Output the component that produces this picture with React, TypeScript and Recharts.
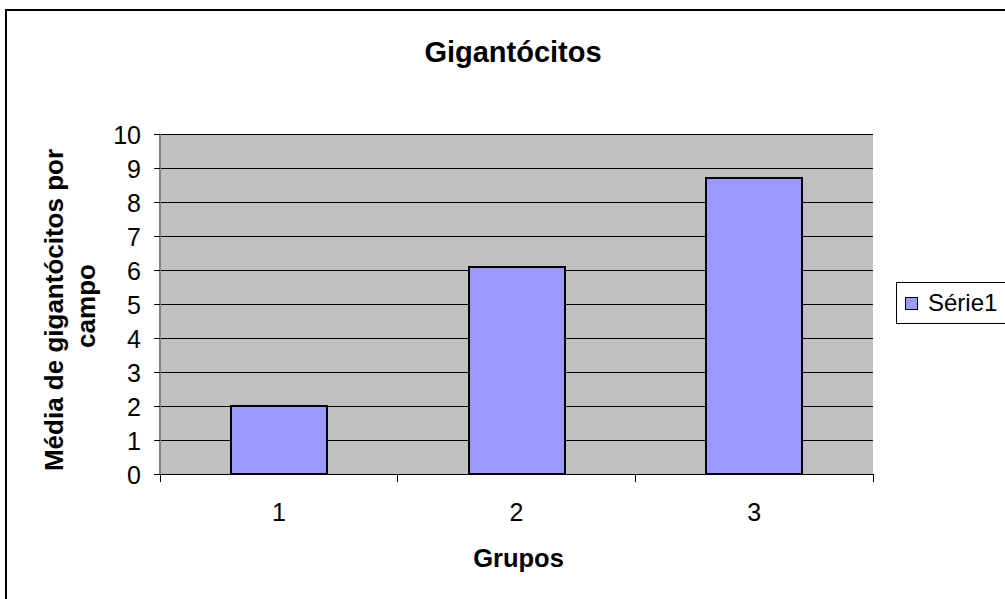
import React from 'react';
import { BarChart, Bar, XAxis, YAxis, CartesianGrid } from 'recharts';

const categories = ['1', '2', '3'];
const serie1 = [2.0, 6.1, 8.7];
const yTicks = [0, 1, 2, 3, 4, 5, 6, 7, 8, 9, 10];
const seriesName = 'Série1';
const chartTitle = 'Gigantócitos';
const xTitle = 'Grupos';
const yTitleLines = ['Média de gigantócitos por', 'campo'];

const data = categories.map((c, i) => ({ grupo: c, valor: serie1[i] }));

const FONT = '"Liberation Sans", Arial, Helvetica, sans-serif';
const BAR_FILL = '#9999FF';

const YTick = (props: any) => {
  const { x, y, payload } = props;
  return (
    <g>
      <line x1={x - 6} y1={y} x2={x} y2={y} stroke="#000" strokeWidth={1} />
      <text x={x - 19} y={y + 1} textAnchor="end" dominantBaseline="central" fontFamily={FONT} fontSize={25} fill="#000">
        {payload.value}
      </text>
    </g>
  );
};

const XTick = (props: any) => {
  const { x, y, payload, index, visibleTicksCount } = props;
  const half = payload && payload.offset ? payload.offset : 713 / categories.length / 2;
  const last = index === (visibleTicksCount ?? categories.length) - 1;
  return (
    <g>
      <line x1={x - half} y1={y} x2={x - half} y2={y + 8} stroke="#000" strokeWidth={1} />
      {last && <line x1={x + half} y1={y} x2={x + half} y2={y + 8} stroke="#000" strokeWidth={1} />}
      <text x={x} y={y + 38} textAnchor="middle" dominantBaseline="central" fontFamily={FONT} fontSize={25} fill="#000">
        {payload.value}
      </text>
    </g>
  );
};

const XTitle = (props: any) => {
  const vb = props.viewBox || { x: 160, y: 474, width: 713, height: 125 };
  return (
    <text x={vb.x + vb.width / 2 + 2} y={vb.y + 84} textAnchor="middle" dominantBaseline="central" fontFamily={FONT} fontWeight="bold" fontSize={25.5} fill="#000">
      {xTitle}
    </text>
  );
};

const YTitle = (props: any) => {
  const vb = props.viewBox || { x: 0, y: 134, width: 160, height: 340 };
  const cy = vb.y + vb.height / 2 + 6;
  return (
    <g>
      {yTitleLines.map((line, i) => (
        <text
          key={i}
          transform={`translate(${54 + i * 32},${cy - i * 4}) rotate(-90)`}
          textAnchor="middle"
          dominantBaseline="central"
          fontFamily={FONT}
          fontWeight="bold"
          fontSize={26}
          fill="#000"
        >
          {line}
        </text>
      ))}
    </g>
  );
};

export default function App() {
  return (
    <div style={{ position: 'fixed', left: 0, top: 0, width: 1005, height: 599, overflow: 'hidden', background: '#fff' }}>
      <div
        style={{
          position: 'absolute',
          left: 5,
          top: 9,
          width: 1100,
          height: 700,
          border: '2px solid #000',
        }}
      />
      <div
        style={{
          position: 'absolute',
          left: 13,
          width: 1000,
          top: 38,
          textAlign: 'center',
          fontFamily: FONT,
          fontWeight: 'bold',
          fontSize: 29,
          lineHeight: '29px',
          color: '#000',
        }}
      >
        {chartTitle}
      </div>
      <div style={{ position: 'absolute', left: 0, top: 0, shapeRendering: 'crispEdges' } as any}>
        <BarChart
          width={1005}
          height={599}
          data={data}
          margin={{ top: 134, right: 132, bottom: 0, left: 0 }}
        >
          <CartesianGrid vertical={false} stroke="#000" strokeWidth={1} fill="#C0C0C0" fillOpacity={1} />
          <XAxis
            dataKey="grupo"
            height={125}
            tickSize={0}
            tickMargin={0}
            tickLine={false}
            axisLine={{ stroke: '#000', strokeWidth: 1 }}
            tick={<XTick />}
            label={<XTitle />}
            interval={0}
          />
          <XAxis xAxisId="top" dataKey="grupo" orientation="top" height={0} tick={false} tickLine={false} axisLine={{ stroke: '#808080', strokeWidth: 2 }} />
          <YAxis
            width={160}
            domain={[0, 10]}
            ticks={yTicks}
            interval={0}
            tickSize={0}
            tickMargin={0}
            tickLine={false}
            axisLine={{ stroke: '#808080', strokeWidth: 2 }}
            tick={<YTick />}
            label={<YTitle />}
          />
          <YAxis yAxisId="right" orientation="right" width={0} domain={[0, 10]} tick={false} tickLine={false} axisLine={{ stroke: '#808080', strokeWidth: 2 }} />
          <Bar dataKey="valor" name={seriesName} fill={BAR_FILL} stroke="#000" strokeWidth={2} barSize={96} isAnimationActive={false} />
        </BarChart>
      </div>
      <div
        style={{
          position: 'absolute',
          left: 896,
          top: 282,
          width: 130,
          height: 42,
          boxSizing: 'border-box',
          border: '1px solid #000',
          background: '#fff',
          display: 'flex',
          alignItems: 'center',
          fontFamily: FONT,
          fontSize: 24,
          color: '#000',
        }}
      >
        <span
          style={{
            display: 'inline-block',
            width: 13,
            height: 13,
            boxSizing: 'border-box',
            border: '1px solid #000',
            background: BAR_FILL,
            marginLeft: 8,
          }}
        />
        <span style={{ marginLeft: 10 }}>{seriesName}</span>
      </div>
    </div>
  );
}
